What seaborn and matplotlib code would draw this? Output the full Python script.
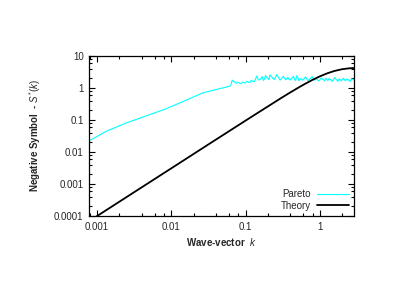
import numpy as np
import pandas as pd
import matplotlib
matplotlib.use("Agg")
import matplotlib.pyplot as plt
import matplotlib.ticker as mticker
import seaborn as sns

# -------------------------------
# DATA
# -------------------------------
# smooth low-k part of the Pareto curve
pareto_k_low = [0.000757, 0.00132, 0.00245, 0.00455, 0.00843, 0.0130, 0.0265, 0.0384, 0.0556]
pareto_s_low = [0.0215, 0.0440, 0.0800, 0.133, 0.221, 0.340, 0.698, 0.866, 1.07]

# noisy high-k part of the Pareto curve
pareto_k_high = [0.0617, 0.0638, 0.0661, 0.0684, 0.0708, 0.0733, 0.0759, 0.0785,
                 0.0813, 0.0841, 0.0871, 0.0902, 0.0933, 0.0966, 0.100, 0.1035,
                 0.1072, 0.1109, 0.1148, 0.1189, 0.1230, 0.1274, 0.1318, 0.1365,
                 0.1413, 0.1462, 0.1514, 0.1567, 0.1622, 0.1679, 0.1738, 0.1799,
                 0.1862, 0.1928, 0.1995, 0.2065, 0.2138, 0.2213, 0.2291, 0.2371,
                 0.2455, 0.2541, 0.2630, 0.2723, 0.2818, 0.2917, 0.3020, 0.3126,
                 0.3236, 0.3350, 0.3467, 0.3589, 0.3715, 0.3846, 0.3981, 0.4121,
                 0.4266, 0.4416, 0.4571, 0.4732, 0.4898, 0.5070, 0.5248, 0.5433,
                 0.5623, 0.5821, 0.6026, 0.6237, 0.6457, 0.6683, 0.6918, 0.7161,
                 0.7413, 0.7674, 0.7943, 0.8222, 0.8511, 0.8810, 0.9120, 0.9441,
                 0.9772, 1.0116, 1.0471, 1.0839, 1.1220, 1.1614, 1.2023, 1.2445,
                 1.2882, 1.3335, 1.3804, 1.4289, 1.4791, 1.5311, 1.5849, 1.6406,
                 1.6982, 1.7579, 1.8197, 1.8836, 1.9498, 2.0184, 2.0893, 2.1627,
                 2.2387, 2.3174, 2.3988, 2.4831, 2.5704, 2.6607, 2.7542, 2.8510]
pareto_s_high = [1.15, 1.30, 1.75, 1.60, 1.55, 1.45, 1.40, 1.50,
                 1.45, 1.38, 1.35, 1.48, 1.50, 1.42, 1.45, 1.60,
                 1.55, 1.48, 1.50, 1.70, 1.65, 1.55, 1.60, 1.90,
                 2.35, 1.95, 1.75, 1.85, 2.00, 2.25, 1.70, 1.90,
                 2.45, 2.10, 1.95, 1.80, 2.55, 2.30, 2.10, 1.90,
                 1.85, 2.20, 2.60, 2.25, 2.05, 1.75, 1.90, 2.10,
                 2.30, 2.00, 1.80, 1.95, 2.15, 1.85, 1.75, 1.95,
                 2.05, 2.30, 1.85, 1.70, 2.40, 2.10, 1.70, 1.85,
                 2.00, 1.75, 1.80, 2.05, 2.20, 1.90, 1.70, 1.80,
                 1.95, 2.10, 2.25, 1.85, 1.75, 1.95, 1.90, 1.70,
                 1.65, 1.85, 2.05, 1.90, 1.80, 1.65, 2.00, 1.85,
                 1.70, 1.95, 1.85, 1.70, 1.60, 1.80, 2.10, 1.90,
                 1.75, 1.60, 1.90, 1.80, 1.65, 1.85, 2.00, 1.75,
                 1.70, 1.90, 1.85, 1.65, 1.60, 1.85, 1.90, 1.75]

theory_k = [0.00063, 0.001, 0.00316, 0.01, 0.0316, 0.1, 0.2, 0.316, 0.398, 0.501,
            0.631, 0.794, 1.0, 1.259, 1.585, 1.995, 2.512, 2.951]
theory_s = [5.0e-5, 1.0e-4, 5.56e-4, 3.09e-3, 0.0172, 0.0952, 0.264, 0.516, 0.715, 0.983,
            1.331, 1.77, 2.285, 2.85, 3.39, 3.83, 4.10, 4.19]

x_ticks = [0.001, 0.01, 0.1, 1]
x_ticklabels = ["0.001", "0.01", "0.1", "1"]
y_ticks = [0.0001, 0.001, 0.01, 0.1, 1, 10]
y_ticklabels = ["0.0001", "0.001", "0.01", "0.1", "1", "10"]

sns.set_theme(style="ticks")
plt.rcParams["font.family"] = ["Liberation Sans", "DejaVu Sans"]
plt.rcParams["mathtext.fontset"] = "custom"
plt.rcParams["mathtext.rm"] = "Liberation Sans"
plt.rcParams["mathtext.it"] = "Liberation Sans:italic"

pareto = pd.DataFrame({"k": pareto_k_low + pareto_k_high,
                       "s": pareto_s_low + pareto_s_high})
theory = pd.DataFrame({"k": theory_k, "s": theory_s})

fig = plt.figure(figsize=(4.07, 2.88), dpi=100)
ax = fig.add_axes([0.219, 0.25, 0.651, 0.556])

sns.lineplot(data=pareto, x="k", y="s", ax=ax, color="#00ffff", lw=0.8,
             estimator=None, label="Pareto")
sns.lineplot(data=theory, x="k", y="s", ax=ax, color="black", lw=1.3,
             estimator=None, label="Theory")

ax.set_xscale("log")
ax.set_yscale("log")
ax.set_xlim(0.00078, 2.9)
ax.set_ylim(0.0001, 10)

ax.xaxis.set_major_locator(mticker.FixedLocator(x_ticks))
ax.xaxis.set_major_formatter(mticker.FixedFormatter(x_ticklabels))
ax.yaxis.set_major_locator(mticker.FixedLocator(y_ticks))
ax.yaxis.set_major_formatter(mticker.FixedFormatter(y_ticklabels))
ax.xaxis.set_minor_locator(mticker.LogLocator(base=10, subs=(2, 4, 6, 8), numticks=20))
ax.yaxis.set_minor_locator(mticker.LogLocator(base=10, subs=(2, 4, 6, 8), numticks=20))
ax.xaxis.set_minor_formatter(mticker.NullFormatter())
ax.yaxis.set_minor_formatter(mticker.NullFormatter())

ax.tick_params(which="both", direction="in", top=True, right=True, labelsize=7,
               color="black", width=0.8)
ax.tick_params(which="major", length=4, pad=4)
ax.tick_params(which="minor", length=2)
for sp in ax.spines.values():
    sp.set_color("black")
    sp.set_linewidth(0.9)

ax.set_xlabel("Wave-vector  $k$", fontsize=7, fontweight="bold", labelpad=3)
ax.set_ylabel("Negative Symbol  - $S^{*}(k)$", fontsize=7, fontweight="bold", labelpad=8)

ax.legend(loc="lower right", frameon=False, fontsize=7, markerfirst=False,
          handlelength=3.3, handletextpad=0.6, labelspacing=0.15,
          borderaxespad=0.15)

fig.savefig("out.png", dpi=100)
